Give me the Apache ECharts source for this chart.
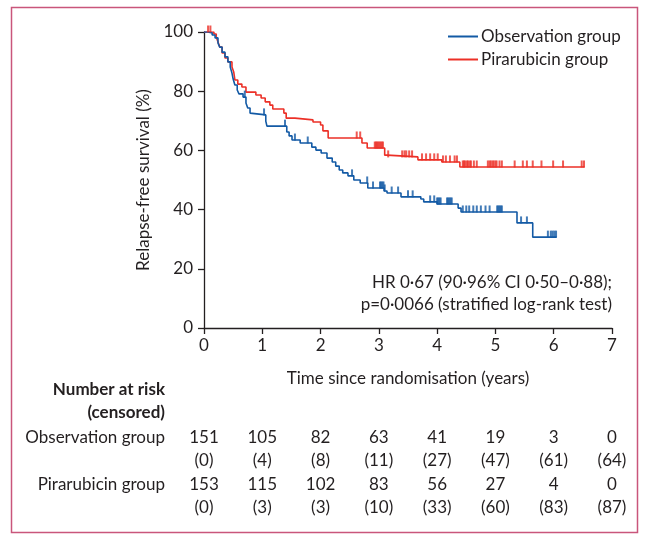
<!DOCTYPE html>
<html>
<head>
<meta charset="utf-8">
<script src="https://cdn.jsdelivr.net/npm/echarts@6/dist/echarts.min.js"></script>
<style>
html,body{margin:0;padding:0;background:#fff;}
#chart{width:648px;height:543px;}
</style>
</head>
<body>
<div id="chart"></div>
<script>
// ---- data ----
var xTicks = [0, 1, 2, 3, 4, 5, 6, 7];
var yTicks = [0, 20, 40, 60, 80, 100];

// Observation group: event times (years) and survival (%) after each drop
var obsTimes = [0, 0.07, 0.14, 0.19, 0.24, 0.27, 0.31, 0.36, 0.41, 0.45, 0.48, 0.50, 0.53, 0.57, 0.60, 0.67, 0.72, 0.75, 0.79, 0.82,
  1.06, 1.08, 1.42, 1.46, 1.51, 1.65, 1.85, 1.92, 2.01, 2.11, 2.20, 2.26, 2.32, 2.38, 2.47, 2.57, 2.68, 2.81,
  3.09, 3.14, 3.38, 3.72, 3.77, 4.00, 4.36, 4.41, 5.37, 5.64];
var obsSurv = [100, 99.7, 99.0, 98.0, 96.3, 94.9, 93.2, 91.6, 89.9, 88.2, 86.1, 84.1, 82.1, 80.4, 79.1, 78.0, 76.0, 74.3, 72.6, 72.0,
  69.9, 68.2, 66.2, 64.9, 63.5, 62.5, 61.1, 60.1, 59.1, 57.4, 56.1, 54.7, 53.4, 52.4, 51.4, 50.0, 49.0, 47.3,
  46.3, 45.6, 44.3, 43.6, 42.6, 41.9, 40.5, 39.2, 35.5, 30.7];
var obsEnd = 6.05;
var obsCensored = [0.70, 1.03, 1.39, 1.56, 1.78, 2.54, 2.80, 2.90, 3.02, 3.04, 3.06, 3.08, 3.10, 3.22, 3.33, 3.50, 3.58,
  3.88, 3.95, 4.00, 4.02, 4.04, 4.06, 4.17, 4.19, 4.21, 4.23, 4.25, 4.44, 4.50, 4.55, 4.62, 4.68, 4.75, 4.83, 4.90,
  5.03, 5.05, 5.07, 5.09, 5.11, 5.44, 5.54, 5.90, 5.95, 5.98, 6.01, 6.04];

// Pirarubicin group
var pirTimes = [0, 0.17, 0.21, 0.24, 0.27, 0.31, 0.36, 0.41, 0.48, 0.51, 0.53, 0.58, 0.65, 0.72, 0.89, 0.98, 1.05, 1.13, 1.18,
  1.37, 1.41, 1.56, 1.87, 2.00, 2.04, 2.13, 2.71, 2.80, 3.10, 3.14, 3.67, 4.08, 4.39];
var pirSurv = [100, 99.3, 98.3, 96.6, 94.9, 92.9, 91.2, 89.9, 88.2, 86.5, 83.8, 82.4, 81.4, 79.7, 78.7, 77.7, 76.4, 75.3, 74.0,
  72.6, 70.9, 70.3, 69.6, 68.6, 66.6, 64.2, 62.5, 60.8, 58.4, 57.8, 56.8, 56.1, 54.4];
var pirEnd = 6.53;
var pirCensored = [0.07, 0.11, 2.62, 2.68, 2.93, 2.95, 2.97, 2.99, 3.01, 3.03, 3.05, 3.07, 3.16, 3.40, 3.44, 3.47, 3.52, 3.57,
  3.74, 3.81, 3.88, 3.95, 4.01, 4.10, 4.15, 4.22, 4.30, 4.34, 4.44, 4.46, 4.48, 4.51, 4.53, 4.56, 4.58, 4.63, 4.68,
  4.87, 4.90, 4.92, 4.95, 4.97, 5.00, 5.02, 5.07, 5.11, 5.33, 5.47, 5.54, 5.64, 5.79, 5.99, 6.16, 6.48, 6.52];

var groupNames = ['Observation group', 'Pirarubicin group'];
var obsRisk = [151, 105, 82, 63, 41, 19, 3, 0];
var obsCens = [0, 4, 8, 11, 27, 47, 61, 64];
var pirRisk = [153, 115, 102, 83, 56, 27, 4, 0];
var pirCens = [0, 3, 3, 10, 33, 60, 83, 87];

var hrLines = ['HR 0·67 (90·96% CI 0·50–0·88);', 'p=0·0066 (stratified log-rank test)'];

// ---- helpers ----
var FONT = 'Lato';
var FS = 17;
var TXT = '#231f20';
var BLUE = '#135aa5';
var RED = '#ec3027';

function stepData(times, surv, end) {
  var d = times.map(function (t, i) { return [t, surv[i]]; });
  d.push([end, surv[surv.length - 1]]);
  return d;
}
function survAt(times, surv, t) {
  var s = surv[0];
  for (var i = 0; i < times.length; i++) { if (times[i] <= t) s = surv[i]; }
  return s;
}
function censData(times, surv, cens) {
  return cens.map(function (t) { return [t, survAt(times, surv, t)]; });
}

var chart = echarts.init(document.getElementById('chart'), null, {renderer: 'canvas'});

var option = {
  animation: false,
  textStyle: {fontFamily: FONT, color: TXT},
  grid: {left: 204, right: 36, top: 32, bottom: 215},
  xAxis: {
    type: 'value', min: 0, max: 7, interval: 1,
    name: 'Time since randomisation (years)', nameLocation: 'middle', nameGap: 42,
    nameTextStyle: {fontFamily: FONT, fontSize: FS, color: TXT},
    axisLine: {lineStyle: {color: TXT, width: 1.3}},
    axisTick: {length: 6, lineStyle: {color: TXT, width: 1.3}},
    axisLabel: {fontFamily: FONT, fontSize: FS, color: TXT, margin: 9},
    splitLine: {show: false}
  },
  yAxis: {
    type: 'value', min: 0, max: 100, interval: 20,
    name: 'Relapse-free survival (%)', nameLocation: 'middle', nameGap: 52,
    nameTextStyle: {fontFamily: FONT, fontSize: FS, color: TXT},
    axisLine: {show: true, lineStyle: {color: TXT, width: 1.3}},
    axisTick: {show: true, length: 6, lineStyle: {color: TXT, width: 1.3}},
    axisLabel: {fontFamily: FONT, fontSize: FS, color: TXT, margin: 11},
    splitLine: {show: false}
  },
  legend: {
    left: 443, top: 23, orient: 'vertical', itemGap: 6,
    itemWidth: 30, itemHeight: 2, icon: 'rect',
    textStyle: {fontFamily: FONT, fontSize: FS, color: TXT, padding: [0, 0, 0, -2]},
    data: groupNames
  },
  series: [
    {name: groupNames[0], type: 'line', step: 'end', showSymbol: false, color: BLUE,
     lineStyle: {color: BLUE, width: 1.6}, data: stepData(obsTimes, obsSurv, obsEnd), z: 3},
    {name: groupNames[1], type: 'line', step: 'end', showSymbol: false, color: RED,
     lineStyle: {color: RED, width: 1.6}, data: stepData(pirTimes, pirSurv, pirEnd), z: 2},
    {name: 'obsCens', type: 'scatter', symbol: 'rect', symbolSize: [2, 7], symbolOffset: [0, -3],
     itemStyle: {color: BLUE}, clip: false, data: censData(obsTimes, obsSurv, obsCensored), z: 4},
    {name: 'pirCens', type: 'scatter', symbol: 'rect', symbolSize: [2, 7], symbolOffset: [0, -3],
     itemStyle: {color: RED}, clip: false, data: censData(pirTimes, pirSurv, pirCensored), z: 3}
  ]
};
chart.setOption(option);

// number-at-risk table and annotations
var g = [];
g.push({type: 'rect', shape: {x: 11.5, y: 7.5, width: 626, height: 525},
  style: {fill: null, stroke: '#c9567b', lineWidth: 1.5}, silent: true});
var hrX = chart.convertToPixel({xAxisIndex: 0}, 7);
g.push({type: 'text', style: {text: hrLines[0], x: hrX, y: 283, textAlign: 'right', textVerticalAlign: 'middle',
  font: FS + 'px ' + FONT, fill: TXT}});
g.push({type: 'text', style: {text: hrLines[1], x: hrX, y: 305, textAlign: 'right', textVerticalAlign: 'middle',
  font: FS + 'px ' + FONT, fill: TXT}});

var labelX = 165;
g.push({type: 'text', style: {text: 'Number at risk', x: labelX, y: 390, textAlign: 'right', textVerticalAlign: 'middle',
  font: 'bold ' + FS + 'px ' + FONT, fill: TXT}});
g.push({type: 'text', style: {text: '(censored)', x: labelX, y: 413, textAlign: 'right', textVerticalAlign: 'middle',
  font: 'bold ' + FS + 'px ' + FONT, fill: TXT}});
g.push({type: 'text', style: {text: groupNames[0], x: labelX, y: 438, textAlign: 'right', textVerticalAlign: 'middle',
  font: FS + 'px ' + FONT, fill: TXT}});
g.push({type: 'text', style: {text: groupNames[1], x: labelX, y: 485, textAlign: 'right', textVerticalAlign: 'middle',
  font: FS + 'px ' + FONT, fill: TXT}});

var rows = [[obsRisk, 438, false], [obsCens, 461, true], [pirRisk, 485, false], [pirCens, 508, true]];
rows.forEach(function (r) {
  r[0].forEach(function (v, i) {
    var px = chart.convertToPixel({xAxisIndex: 0}, xTicks[i]);
    g.push({type: 'text', style: {text: r[2] ? '(' + v + ')' : String(v), x: px, y: r[1],
      textAlign: 'center', textVerticalAlign: 'middle', font: FS + 'px ' + FONT, fill: TXT}});
  });
});
chart.setOption({graphic: g});
</script>
</body>
</html>
